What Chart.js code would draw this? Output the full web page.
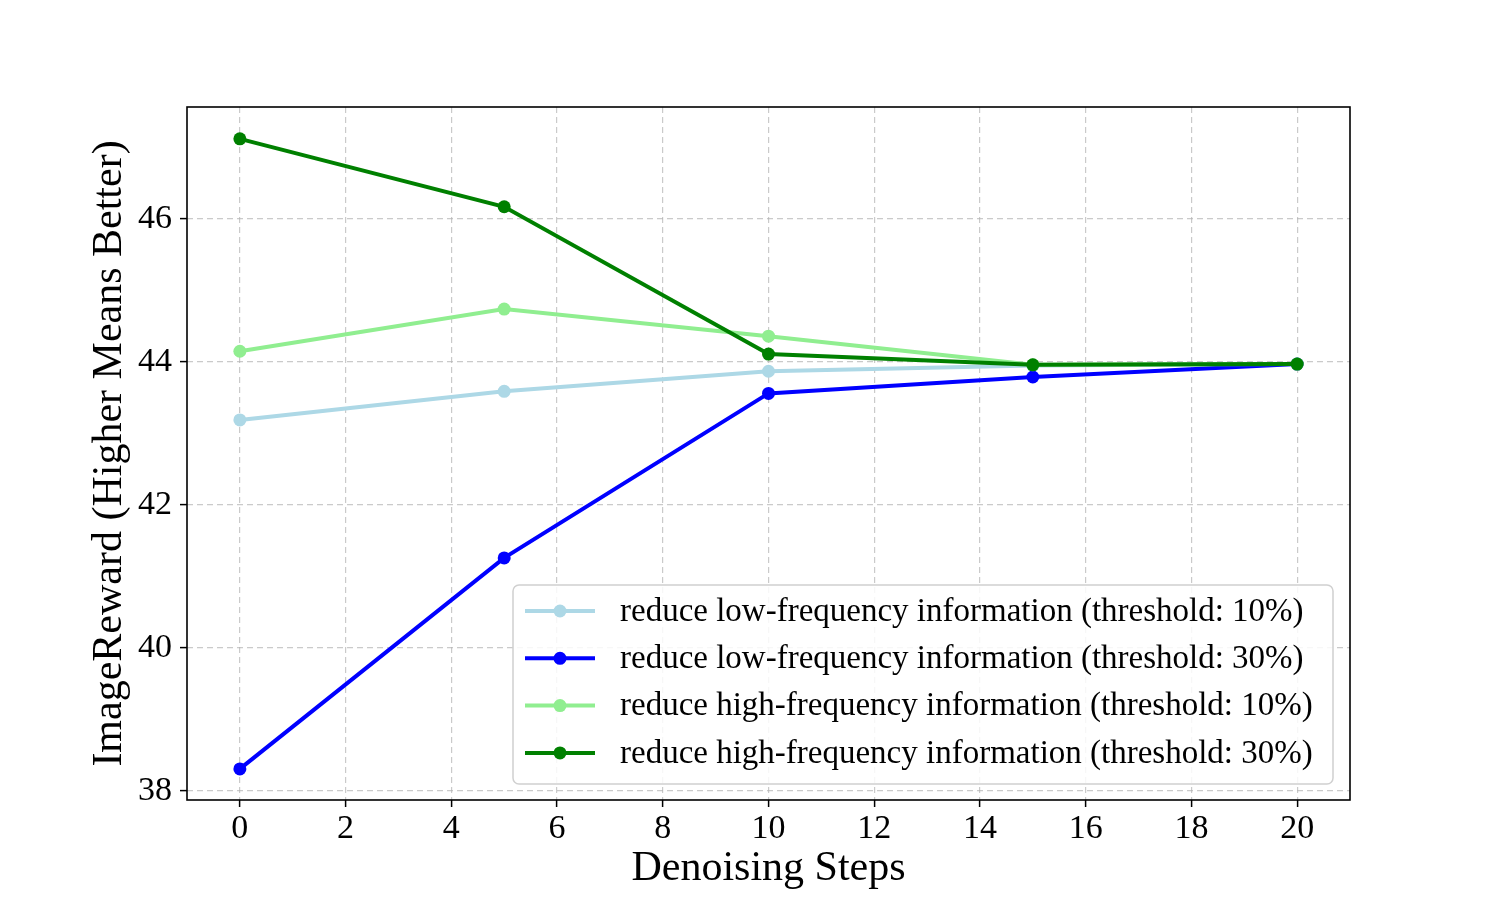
<!DOCTYPE html>
<html>
<head>
<meta charset="utf-8">
<script src="https://cdn.jsdelivr.net/npm/chart.js@4.4.0/dist/chart.umd.min.js"></script>
<style>
  html, body { margin: 0; padding: 0; background: #fff; }
  #wrap { width: 1500px; height: 900px; }
</style>
</head>
<body>
<div id="wrap"><canvas id="c" width="1500" height="900"></canvas></div>
<script>
// data
const steps = [0, 5, 10, 15, 20];
const lowFreq10 = [43.19, 43.59, 43.87, 43.95, 43.97];
const lowFreq30 = [38.31, 41.26, 43.56, 43.79, 43.97];
const highFreq10 = [44.15, 44.74, 44.36, 43.96, 43.97];
const highFreq30 = [47.12, 46.17, 44.11, 43.96, 43.97];
const seriesLabels = [
    'reduce low-frequency information (threshold: 10%)',
    'reduce low-frequency information (threshold: 30%)',
    'reduce high-frequency information (threshold: 10%)',
    'reduce high-frequency information (threshold: 30%)'
];
const xTicks = [0, 2, 4, 6, 8, 10, 12, 14, 16, 18, 20];
const yTicks = [38, 40, 42, 44, 46];

const FONT = '"Liberation Serif", "Times New Roman", serif';
const colors = ['#add8e6', '#0000ff', '#90ee90', '#008000'];
const allSeries = [lowFreq10, lowFreq30, highFreq10, highFreq30];

const datasets = allSeries.map((vals, i) => ({
    label: seriesLabels[i],
    data: steps.map((s, j) => ({ x: s, y: vals[j] })),
    borderColor: colors[i],
    backgroundColor: colors[i],
    borderWidth: 4,
    pointRadius: 6.5,
    pointHoverRadius: 6.5,
    pointBorderWidth: 0,
    tension: 0,
    order: 4 - i
}));

// black frame round the plot + legend inside the axes
const framePlugin = {
    id: 'frame',
    afterDraw(chart) {
        const { ctx, chartArea: a } = chart;
        ctx.save();
        ctx.strokeStyle = '#000';
        ctx.lineWidth = 1.6;
        ctx.strokeRect(a.left, a.top, a.right - a.left, a.bottom - a.top);

        // legend
        const bx = 513, by = 585, bw = 820, bh = 199;
        ctx.fillStyle = 'rgba(255,255,255,0.85)';
        ctx.strokeStyle = '#d0d0d0';
        ctx.lineWidth = 1.5;
        ctx.beginPath();
        ctx.roundRect(bx, by, bw, bh, 6);
        ctx.fill();
        ctx.stroke();
        ctx.font = '33px ' + FONT;
        ctx.textBaseline = 'middle';
        ctx.textAlign = 'left';
        chart.data.datasets.forEach((ds, i) => {
            const y = 611 + i * 47.3;
            ctx.strokeStyle = ds.borderColor;
            ctx.lineWidth = 4;
            ctx.beginPath();
            ctx.moveTo(525, y);
            ctx.lineTo(595, y);
            ctx.stroke();
            ctx.fillStyle = ds.borderColor;
            ctx.beginPath();
            ctx.arc(560, y, 6.5, 0, Math.PI * 2);
            ctx.fill();
            ctx.fillStyle = '#000';
            ctx.fillText(ds.label, 620, y + 1);
        });
        ctx.restore();
    }
};

new Chart(document.getElementById('c'), {
    type: 'line',
    data: { datasets: datasets },
    options: {
        responsive: false,
        animation: false,
        devicePixelRatio: 1,
        layout: { padding: { left: 0, top: 107, right: 150, bottom: 0 } },
        plugins: { legend: { display: false }, tooltip: { enabled: false } },
        scales: {
            x: {
                type: 'linear',
                min: -1,
                max: 21,
                afterBuildTicks: s => { s.ticks = xTicks.map(v => ({ value: v })); },
                afterFit: s => { s.height = 100; },
                grid: {
                    color: 'rgba(180,180,180,0.7)',
                    lineWidth: 1.2,
                    tickColor: '#000',
                    tickLength: 7,
                    tickWidth: 1.5
                },
                border: { display: false, dash: [6, 4] },
                ticks: {
                    color: '#000',
                    font: { family: FONT, size: 34 },
                    padding: 2,
                    maxRotation: 0,
                    autoSkip: false
                },
                title: {
                    display: true,
                    text: 'Denoising Steps',
                    color: '#000',
                    font: { family: FONT, size: 42 },
                    padding: { top: 0, bottom: 6 }
                }
            },
            y: {
                min: 37.875,
                max: 47.565,
                afterBuildTicks: s => { s.ticks = yTicks.map(v => ({ value: v })); },
                afterFit: s => { s.width = 187; },
                grid: {
                    color: 'rgba(180,180,180,0.7)',
                    lineWidth: 1.2,
                    tickColor: '#000',
                    tickLength: 7,
                    tickWidth: 1.5
                },
                border: { display: false, dash: [6, 4] },
                ticks: {
                    color: '#000',
                    font: { family: FONT, size: 34 },
                    padding: 8
                },
                title: {
                    display: true,
                    text: 'ImageReward (Higher Means Better)',
                    color: '#000',
                    font: { family: FONT, size: 42 },
                    padding: { top: 85, bottom: 0 }
                }
            }
        }
    },
    plugins: [framePlugin]
});
</script>
</body>
</html>
